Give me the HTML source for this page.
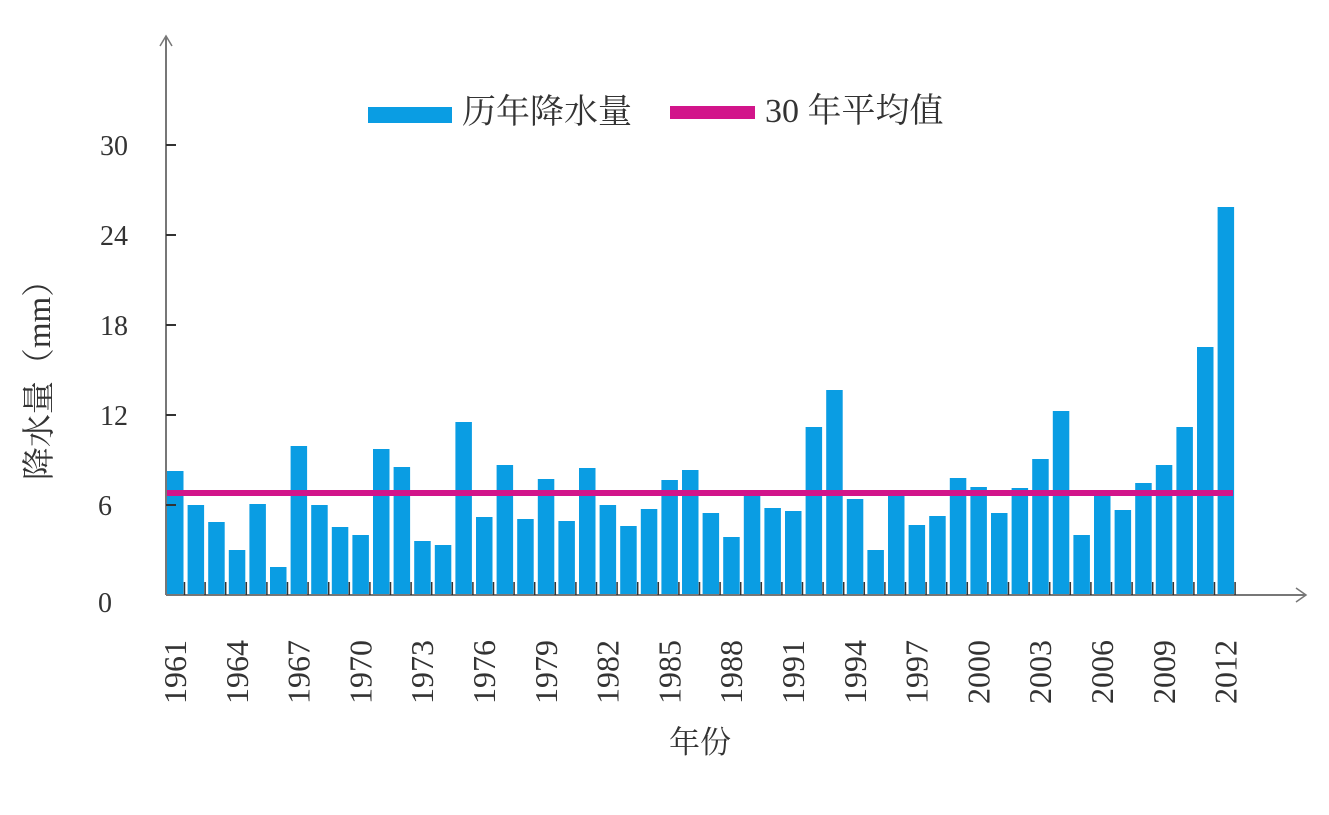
<!DOCTYPE html>
<html><head><meta charset="utf-8"><style>
body{margin:0;background:#fff;}
svg text{font-family:"Liberation Serif","Noto Serif CJK SC",serif;fill:#333;}
</style></head><body>
<svg width="1329" height="810" xmlns="http://www.w3.org/2000/svg">
<g id="bars" fill="#0a9de3"></g>
<rect x="167" y="490" width="1066" height="6" fill="#d2158a"/>
<line x1="166" y1="36" x2="166" y2="595" stroke="#777" stroke-width="2"/>
<polyline points="160,46 166,36 172,46" fill="none" stroke="#777" stroke-width="1.5"/>
<line x1="166" y1="595" x2="1306" y2="595" stroke="#777" stroke-width="2"/>
<polyline points="1296,588 1306,595 1296,602" fill="none" stroke="#777" stroke-width="1.5"/>
<g stroke="#333" stroke-width="2">
<line x1="166" y1="145" x2="176" y2="145"/><line x1="166" y1="235" x2="176" y2="235"/>
<line x1="166" y1="325" x2="176" y2="325"/><line x1="166" y1="415" x2="176" y2="415"/>
<line x1="166" y1="505" x2="176" y2="505"/>
</g>
<g id="ticks" stroke="#333" stroke-width="1.5"></g>
<g font-size="28" text-anchor="end">
<text x="128" y="155">30</text><text x="128" y="245">24</text><text x="128" y="335">18</text>
<text x="128" y="425">12</text><text x="112" y="515">6</text><text x="112" y="612">0</text>
</g>
<g id="xl" font-size="32"></g>
<rect x="368" y="107" width="84" height="16" fill="#0a9de3"/>
<text x="462" y="123" font-size="34">历年降水量</text>
<rect x="670" y="106" width="85" height="13" fill="#d2158a"/>
<text x="765" y="122" font-size="34">30 年平均值</text>
<text x="700" y="753" font-size="31" text-anchor="middle">年份</text>
<text transform="translate(50,372) rotate(-90)" font-size="33" text-anchor="middle">降水量（mm）</text>
</svg>
<script>
var tops=[471,505,522,550,504,567,446,505,527,535,449,467,541,545,422,517,465,519,479,521,468,505,526,509,480,470,513,537,495,508,511,427,390,499,550,495,525,516,478,487,513,488,459,411,535,495,510,483,465,427,347,207];
var ns="http://www.w3.org/2000/svg",b=document.getElementById("bars"),t=document.getElementById("ticks"),xl=document.getElementById("xl");
for(var i=0;i<52;i++){var x=167+i*20.6;
var r=document.createElementNS(ns,"rect");r.setAttribute("x",x);r.setAttribute("y",tops[i]);r.setAttribute("width",16.5);r.setAttribute("height",595-tops[i]);b.appendChild(r);
var l=document.createElementNS(ns,"line");var lx=x+17.5;l.setAttribute("x1",lx);l.setAttribute("x2",lx);l.setAttribute("y1",582);l.setAttribute("y2",595);t.appendChild(l);
if(i%3==0){var tx=document.createElementNS(ns,"text");var cx=x+8+11;tx.setAttribute("transform","translate("+cx+",704) rotate(-90)");tx.textContent=1961+i;xl.appendChild(tx);}}
</script>
</body></html>
